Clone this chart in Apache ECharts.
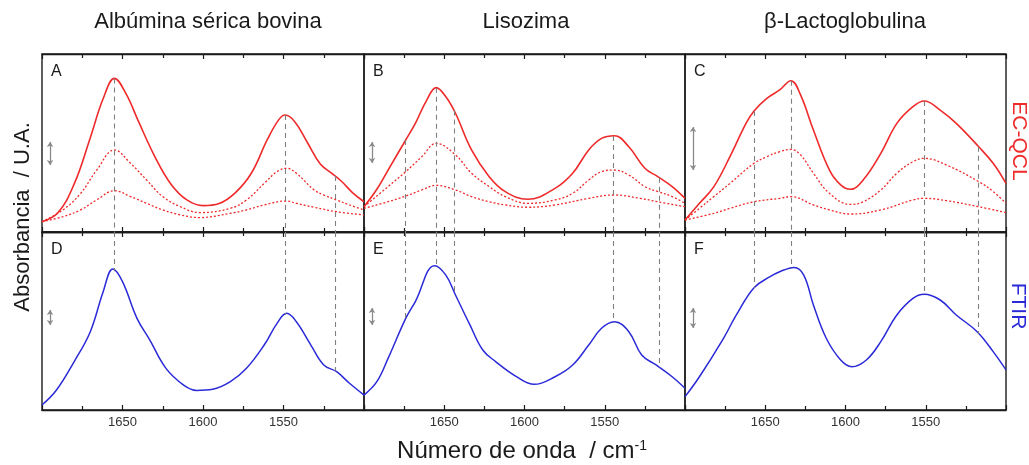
<!DOCTYPE html>
<html><head><meta charset="utf-8">
<script src="https://cdn.jsdelivr.net/npm/echarts@6/dist/echarts.min.js"></script>
<style>html,body{margin:0;padding:0;background:#fff}#c{width:1029px;height:465px}</style>
</head><body><div id="c"></div>
<script>
// ---- data: [wavenumber (cm-1), absorbance (a.u.)] ----
const titles = ['Albúmina sérica bovina', 'Lisozima', 'β-Lactoglobulina'];
const panelLetters = ['A', 'B', 'C', 'D', 'E', 'F'];
const tickValues = [1650, 1600, 1550];

const A_solid = [[1700,5.8],[1690,11],[1680,27],[1670,53],[1662,75],[1655,86.3],[1648,78],[1640,62],[1630,42.5],[1620,27],[1610,18],[1600,14.8],[1590,16],[1580,22],[1570,33],[1560,52],[1553,63],[1549,65.7],[1543,62],[1535,50],[1527,38],[1520,33],[1514,28.5],[1507,22],[1500,17]];
const A_mid = [[1700,5.8],[1687,12.4],[1676,21.7],[1666,34.8],[1655,46.1],[1645,38.6],[1635,29.2],[1625,19.9],[1614,14.2],[1602,10.9],[1583,13.3],[1573,18],[1562,27.3],[1554,33.9],[1548,35.8],[1542,33],[1531,23.6],[1525,20.8],[1517,18],[1509,15.2],[1500,12.4]];
const A_low = [[1700,5.8],[1687,8.6],[1676,12.4],[1666,18],[1655,23.2],[1645,19.9],[1635,16.1],[1625,12.4],[1614,9.6],[1602,8.1],[1583,10.5],[1573,12.4],[1562,15.2],[1548,17.4],[1542,16.1],[1531,13.9],[1517,11.4],[1500,9.6]];

const B_solid = [[1700,14.2],[1692,24],[1685,34.8],[1674,51.7],[1668,61],[1661,74],[1655,81.1],[1649,76],[1643,66.7],[1633,46.1],[1622,31.1],[1612,22.7],[1598,18.4],[1581,24.5],[1570,33],[1560,46.1],[1552,52.6],[1544,54.1],[1535,47.9],[1525,35.8],[1517,31.1],[1508,25.5],[1500,18.9]];
const B_mid = [[1700,14.2],[1685,25.5],[1674,33.9],[1664,42.3],[1655,49.8],[1643,43.3],[1633,33],[1622,25.5],[1612,19.9],[1598,16.1],[1581,18],[1570,21.7],[1560,29.2],[1552,33.9],[1544,34.8],[1535,32],[1525,25.5],[1517,22.7],[1508,19.9],[1500,16.1]];
const B_low = [[1700,13.3],[1685,17],[1674,20.2],[1664,23.6],[1655,26.2],[1643,23.6],[1633,19.9],[1622,17],[1612,15.2],[1598,13.9],[1581,15.2],[1560,18.9],[1544,20.8],[1528,18.9],[1517,17],[1500,14.2]];

const C_solid = [[1700,6.7],[1691,16.1],[1682,25.5],[1672,42.3],[1662,61],[1657,68],[1649,75.1],[1641,79.8],[1634,85],[1628,77],[1620,57.3],[1610,34.8],[1603,26.5],[1597,24],[1589,29.2],[1578,44.2],[1568,61],[1558,70.4],[1551,73.6],[1541,68.5],[1531,61],[1517,47.9],[1508,38.6],[1500,27.3]];
const C_mid = [[1700,6.7],[1691,13.3],[1682,19.9],[1672,27.3],[1657,38.6],[1649,42.3],[1641,45.1],[1634,46.4],[1628,43.3],[1620,33],[1610,21.7],[1597,15.5],[1589,17],[1578,23.6],[1568,33],[1558,39.5],[1551,41.4],[1537,37.6],[1517,28.3],[1508,22.7],[1500,16.1]];
const C_low = [[1700,6.7],[1682,10.5],[1672,13.3],[1657,17],[1641,18.9],[1634,19.9],[1620,15.2],[1610,12.4],[1597,10.1],[1578,12.4],[1558,18],[1551,18.9],[1537,17.6],[1517,14.2],[1500,10.9]];

const D_ftir = [[1700,2.8],[1691,11.2],[1680,27.2],[1670,44],[1662,66.5],[1656,79.2],[1650,72.1],[1641,51.5],[1633,39.3],[1623,23.4],[1612,14],[1604,11],[1594,11.6],[1583,15.9],[1573,23.4],[1562,36.5],[1554,48.7],[1548,54.3],[1542,49.6],[1533,36.5],[1525,25.3],[1517,21.5],[1509,15],[1500,8.4]];
const E_ftir = [[1700,8.4],[1692,15.9],[1685,29],[1674,51.5],[1668,60.9],[1656,81.1],[1649,75.8],[1643,64.6],[1634,47.8],[1626,33.7],[1618,27.2],[1605,18.7],[1594,14.4],[1581,18.7],[1570,25.3],[1560,36.5],[1552,45.9],[1544,49.6],[1535,44],[1527,30.9],[1518,25.3],[1508,18.7],[1500,12.2]];
const F_ftir = [[1700,7.5],[1691,18.7],[1676,40.3],[1668,53.4],[1657,68.7],[1647,74.9],[1641,77.7],[1632,80.1],[1626,75.8],[1620,59],[1612,40.3],[1603,28.1],[1596,24.3],[1587,28.1],[1578,38.4],[1568,53.4],[1558,62.7],[1551,65],[1541,61.8],[1531,53.4],[1518,44],[1508,32.8],[1500,22.5]];

// band positions marked with dashed lines
const A_bands = [1655, 1549, 1518];
const B_bands = [1674, 1655, 1644, 1545, 1516];
const C_bands = [1657, 1634, 1551, 1517];

// scale bars: [wavenumber, low, high]
const scaleBars = [[1695,37.6,50.6],[1695,38.8,50.6],[1695,34.8,59],[1695,47.8,56.2],[1695,47.8,57.3],[1695,46.1,57.3]];

// ---- layout & style ----
const FONT = "'Liberation Sans', Arial, sans-serif";
const RED = '#ee2a2a', BLUE = '#2a2ad8', GRAY = '#808080', INK = '#1a1a1a';
const cols = [{left:42,width:322},{left:364,width:321},{left:685,width:321}];
const rows = [{top:54,height:178},{top:232,height:178}];

// the wavenumber axis runs from high (left) to low (right): plot on a negated value axis
const X = w => -w;
const toXY = arr => arr.map(p => [X(p[0]), p[1]]);

function interp(arr, w) {
  for (let i = 0; i < arr.length - 1; i++) {
    const a = arr[i], b = arr[i+1];
    if (w <= a[0] && w >= b[0]) {
      const t = (a[0] - w) / (a[0] - b[0]);
      return a[1] + t * (b[1] - a[1]);
    }
  }
  return arr[arr.length-1][1];
}

const grids = [], xAxes = [], yAxes = [], series = [];
const topSets = [[A_solid,A_mid,A_low],[B_solid,B_mid,B_low],[C_solid,C_mid,C_low]];
const ftirSets = [D_ftir, E_ftir, F_ftir];
const bandSets = [A_bands, B_bands, C_bands];

function xAx(gi, pos, labels) {
  return {type:'value', gridIndex:gi, position:pos, min:-1700, max:-1500, interval:50,
    axisLine:{show:true, onZero:false, lineStyle:{color:INK, width:1.4}}, splitLine:{show:false},
    axisTick:{show:true, inside:true, length:5, lineStyle:{color:INK, width:1.2}},
    minorTick:{show:true, splitNumber:2, length:4, lineStyle:{color:INK, width:1.2}},
    axisLabel:{show:labels, fontSize:13, color:'#333', margin:6, fontFamily:FONT,
      formatter: v => tickValues.includes(-v) ? String(-v) : ''}};
}

for (let r = 0; r < 2; r++) {
  for (let c = 0; c < 3; c++) {
    const gi = r*3 + c;
    grids.push({left:cols[c].left, width:cols[c].width, top:rows[r].top, height:rows[r].height,
      show:true, borderColor:INK, borderWidth:1.4, backgroundColor:'transparent'});
    xAxes.push(xAx(gi, 'bottom', r === 1));
    xAxes.push(xAx(gi, 'top', false));
    yAxes.push({type:'value', gridIndex:gi, min:0, max:100, show:false});
    const sb = scaleBars[gi];
    const barLine = [{coord:[X(sb[0]), sb[1]], symbol:'arrow', symbolSize:5, lineStyle:{type:'solid', color:'#8a8a8a', width:1.3}},
                     {coord:[X(sb[0]), sb[2]], symbol:'arrow', symbolSize:5}];
    if (r === 0) {
      const [solid, mid, low] = topSets[c];
      const dashes = bandSets[c].map(w => [{coord:[X(w), interp(solid, w)]}, {coord:[X(w), 0]}]);
      series.push({type:'line', xAxisIndex:gi*2, yAxisIndex:gi, data:toXY(solid), smooth:0.4, showSymbol:false,
        lineStyle:{color:RED, width:1.6}, z:3,
        markLine:{silent:true, symbol:['none','none'], label:{show:false},
          lineStyle:{type:[5,4], color:GRAY, width:1.1}, data:dashes.concat([barLine])}});
      series.push({type:'line', xAxisIndex:gi*2, yAxisIndex:gi, data:toXY(mid), smooth:0.4, showSymbol:false,
        lineStyle:{color:RED, width:1.3, type:[2,2]}, z:3});
      series.push({type:'line', xAxisIndex:gi*2, yAxisIndex:gi, data:toXY(low), smooth:0.4, showSymbol:false,
        lineStyle:{color:RED, width:1.3, type:[2,2]}, z:3});
    } else {
      const ft = ftirSets[c];
      const dashes = bandSets[c].map(w => [{coord:[X(w), 100]}, {coord:[X(w), interp(ft, w)]}]);
      series.push({type:'line', xAxisIndex:gi*2, yAxisIndex:gi, data:toXY(ft), smooth:0.4, showSymbol:false,
        lineStyle:{color:BLUE, width:1.5}, z:3,
        markLine:{silent:true, symbol:['none','none'], label:{show:false},
          lineStyle:{type:[5,4], color:GRAY, width:1.1}, data:dashes.concat([barLine])}});
    }
  }
}

const graphics = [];
const titleX = [208, 526, 845];
titles.forEach((t, i) => graphics.push({type:'text', x:titleX[i], y:22,
  style:{text:t, font:'22px ' + FONT, fill:INK, align:'center', verticalAlign:'middle'}}));
panelLetters.forEach((l, i) => {
  const r = Math.floor(i/3), c = i % 3;
  graphics.push({type:'text', x:cols[c].left + 9, y:rows[r].top + 18,
    style:{text:l, font:'16px ' + FONT, fill:INK, align:'left', verticalAlign:'middle'}});
});
graphics.push({type:'text', x:23, y:217, rotation:Math.PI/2,
  style:{text:'Absorbancia  / U.A.', font:'22px ' + FONT, fill:INK, align:'center', verticalAlign:'middle'}});
graphics.push({type:'text', x:1019, y:141, rotation:-Math.PI/2,
  style:{text:'EC-QCL', font:'21px ' + FONT, fill:RED, align:'center', verticalAlign:'middle'}});
graphics.push({type:'text', x:1018, y:306, rotation:-Math.PI/2,
  style:{text:'FTIR', font:'21px ' + FONT, fill:BLUE, align:'center', verticalAlign:'middle'}});
graphics.push({type:'text', x:522, y:451,
  style:{text:'Número de onda  / cm{s|-1}', font:'24px ' + FONT, fill:INK, align:'center', verticalAlign:'middle',
    rich:{s:{font:'14px ' + FONT, fill:INK, verticalAlign:'top', lineHeight:24, padding:[0,0,10,0]}}}});

const chart = echarts.init(document.getElementById('c'), null, {renderer:'canvas'});
chart.setOption({animation:false, grid:grids, xAxis:xAxes, yAxis:yAxes, series:series, graphic:graphics});
</script></body></html>
